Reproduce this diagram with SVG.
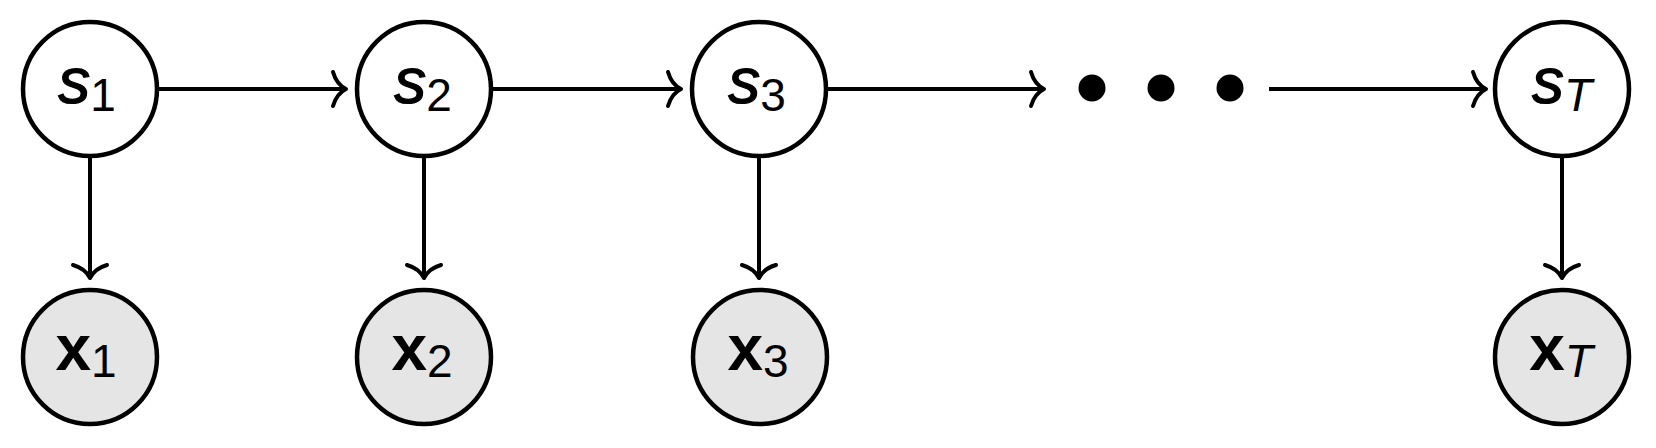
<svg xmlns="http://www.w3.org/2000/svg" width="1656" height="448" viewBox="0 0 1656 448">
  <style>
    .state { fill: #ffffff; stroke: #000000; stroke-width: 4.5; }
    .obs { fill: #e5e5e5; stroke: #000000; stroke-width: 4.5; }
    .edge { fill: none; stroke: #000000; stroke-width: 4; }
    .lbl { font-family: "Liberation Sans", Arial, Helvetica, sans-serif; fill: #000000; }
    .sv { font-style: italic; font-size: 64px; stroke: #000000; stroke-width: 1.2; }
    .xv { font-weight: bold; font-size: 64px; }
    .sub { font-size: 46px; stroke: none; }
    .subi { font-size: 46px; font-style: italic; stroke: none; }
  </style>
  <defs>
    <marker id="arrow" viewBox="-20 -20 24 40" markerWidth="24" markerHeight="40" refX="0" refY="0" orient="auto" markerUnits="userSpaceOnUse">
      <path d="M -13 -17 C -11 -10 -6 -3 0 0 C -6 3 -11 10 -13 17" fill="none" stroke="#000000" stroke-width="4" stroke-linecap="round" stroke-linejoin="round"/>
    </marker>
  </defs>

  <g id="connectors">
    <line class="edge" x1="158" y1="89" x2="346" y2="89" marker-end="url(#arrow)"/>
    <line class="edge" x1="492" y1="89" x2="681" y2="89" marker-end="url(#arrow)"/>
    <line class="edge" x1="827" y1="89" x2="1044" y2="89" marker-end="url(#arrow)"/>
    <line class="edge" x1="1269" y1="89" x2="1486" y2="89" marker-end="url(#arrow)"/>
    <line class="edge" x1="90" y1="157" x2="90" y2="278" marker-end="url(#arrow)"/>
    <line class="edge" x1="424" y1="157" x2="424" y2="278" marker-end="url(#arrow)"/>
    <line class="edge" x1="759" y1="157" x2="759" y2="278" marker-end="url(#arrow)"/>
    <line class="edge" x1="1562" y1="157" x2="1562" y2="278" marker-end="url(#arrow)"/>
  </g>

  <g id="ellipsis">
    <circle cx="1092" cy="88" r="13.5" fill="#000000"/>
    <circle cx="1161" cy="88" r="13.5" fill="#000000"/>
    <circle cx="1230" cy="88" r="13.5" fill="#000000"/>
  </g>

  <g id="s1">
    <circle class="state" cx="90" cy="89" r="67"/>
    <text class="lbl" x="87" y="103" text-anchor="middle"><tspan class="sv">s</tspan><tspan class="sub" dy="8">1</tspan></text>
  </g>
  <g id="s2">
    <circle class="state" cx="424" cy="89" r="67"/>
    <text class="lbl" x="423" y="103" text-anchor="middle"><tspan class="sv">s</tspan><tspan class="sub" dy="8">2</tspan></text>
  </g>
  <g id="s3">
    <circle class="state" cx="759" cy="89" r="67"/>
    <text class="lbl" x="757" y="103" text-anchor="middle"><tspan class="sv">s</tspan><tspan class="sub" dy="8">3</tspan></text>
  </g>
  <g id="sT">
    <circle class="state" cx="1562" cy="89" r="67"/>
    <text class="lbl" x="1562" y="103" text-anchor="middle"><tspan class="sv">s</tspan><tspan class="subi" dy="8">T</tspan></text>
  </g>

  <g id="x1">
    <circle class="obs" cx="90" cy="357" r="67"/>
    <text class="lbl" x="86" y="370" text-anchor="middle"><tspan class="xv">x</tspan><tspan class="sub" dy="7">1</tspan></text>
  </g>
  <g id="x2">
    <circle class="obs" cx="424" cy="357" r="67"/>
    <text class="lbl" x="422" y="370" text-anchor="middle"><tspan class="xv">x</tspan><tspan class="sub" dy="7">2</tspan></text>
  </g>
  <g id="x3">
    <circle class="obs" cx="760" cy="357" r="67"/>
    <text class="lbl" x="758" y="370" text-anchor="middle"><tspan class="xv">x</tspan><tspan class="sub" dy="7">3</tspan></text>
  </g>
  <g id="xT">
    <circle class="obs" cx="1562" cy="357" r="67"/>
    <text class="lbl" x="1561" y="370" text-anchor="middle"><tspan class="xv">x</tspan><tspan class="subi" dy="7">T</tspan></text>
  </g>
</svg>
